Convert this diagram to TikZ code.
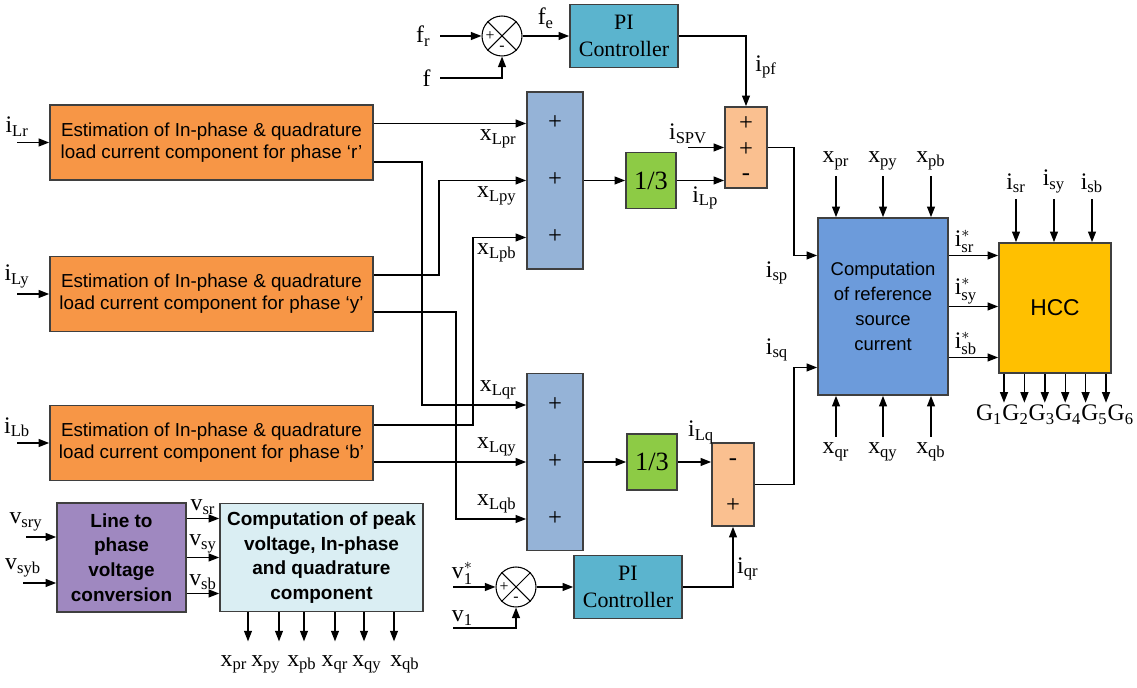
\documentclass[tikz,border=0pt]{standalone}
\usepackage{fontspec}
\setmainfont{Liberation Serif}
\setsansfont{Liberation Sans}
\usetikzlibrary{arrows.meta, positioning, calc}
\definecolor{EstOrange}{HTML}{F79646}
\definecolor{SumPeach}{HTML}{FAC090}
\definecolor{SumBlue}{HTML}{95B3D7}
\definecolor{GainGreen}{HTML}{8DCB45}
\definecolor{PIBlue}{HTML}{5BB4CE}
\definecolor{RefBlue}{HTML}{6C9BDB}
\definecolor{HCCGold}{HTML}{FFC000}
\definecolor{ConvPurple}{HTML}{9F88C0}
\definecolor{PeakCyan}{HTML}{DAEEF3}
\definecolor{EdgeGray}{HTML}{3F3F3F}
\newcommand{\sub}[2]{#1\textsubscript{#2}}
\newcommand{\subsup}[3]{$\mathrm{#1}^{#3}_{\mathrm{#2}}$}

\begin{document}
\begin{tikzpicture}[x=0.02cm, y=-0.02cm, >={Triangle[length=6pt,width=4.5pt]}, line width=0.8pt,
  blk/.style={draw=EdgeGray, line width=1pt, inner sep=0pt, align=center},
  est/.style={blk, fill=EstOrange, minimum width=6.46cm, minimum height=1.5cm, font=\sffamily\fontsize{10.7}{12.5}\selectfont},
  sumbox/.style={blk, fill=SumBlue, minimum width=1.12cm, minimum height=3.54cm},
  gain/.style={blk, fill=GainGreen, minimum width=1cm, minimum height=1.12cm, font=\fontsize{15}{15}\selectfont},
  picon/.style={blk, fill=PIBlue, minimum width=2.16cm, minimum height=1.26cm, font=\fontsize{12.5}{15}\selectfont},
  addbox/.style={blk, fill=SumPeach, minimum width=0.84cm, minimum height=1.62cm},
  summer/.style={draw, circle, minimum size=0.8cm, inner sep=0pt, line width=0.6pt},
  lbl/.style={font=\fontsize{13.5}{13.5}\selectfont, inner sep=1pt},
  sgn/.style={font=\fontsize{14}{14}\selectfont, inner sep=0pt, text height=7pt, text depth=0pt},
  csgn/.style={font=\fontsize{9}{9}\selectfont, inner sep=0pt}]

  \useasboundingbox (0,0) rectangle (1137,688);

  % --- load current estimation ---
  \node[est] (estr) at (211.5,142.5) {Estimation of In-phase \& quadrature\\load current component for phase ‘r’};
  \node[est] (esty) at (211.5,294) {Estimation of In-phase \& quadrature\\load current component for phase ‘y’};
  \node[est] (estb) at (211.5,443) {Estimation of In-phase \& quadrature\\load current component for phase ‘b’};
  \foreach \bx/\s in {estr/Lr, esty/Ly, estb/Lb}
    \draw[->] ($(\bx.west)+(-32,0)$) node[lbl, above=2pt]{\sub{i}{\s}} -- (\bx.west);

  % --- in-phase and quadrature adders ---
  \node[sumbox] (sumP) at (555,180.5) {};
  \node[sumbox] (sumQ) at (555,462) {};
  \coordinate (pa) at ($(sumP.west)+(0,-57)$);
  \coordinate (pb) at (sumP.west);
  \coordinate (pc) at ($(sumP.west)+(0,57)$);
  \coordinate (qa) at ($(sumQ.west)+(0,-57)$);
  \coordinate (qb) at (sumQ.west);
  \coordinate (qc) at ($(sumQ.west)+(0,57)$);
  \foreach \c in {pa,pb,pc,qa,qb,qc}
    \node[sgn] at (\c -| sumP) {+};

  \draw[->] (pa -| estr.east) -- (pa) node[lbl, anchor=north east, xshift=-4pt, yshift=-2pt]{\sub{x}{Lpr}};
  \draw[->] ($(esty.east)+(0,-19)$) -| ($(pb)+(-87,0)$) -- (pb) node[lbl, anchor=north east, xshift=-4pt, yshift=-2pt]{\sub{x}{Lpy}};
  \draw[->] ($(estb.east)+(0,-18)$) -| ($(pc)+(-53,0)$) -- (pc) node[lbl, anchor=north east, xshift=-4pt, yshift=-2pt]{\sub{x}{Lpb}};
  \draw[->] ($(estr.east)+(0,19.5)$) -| ($(qa)+(-104,0)$) -- (qa) node[lbl, anchor=south east, xshift=-4pt, yshift=2pt]{\sub{x}{Lqr}};
  \draw[->] (qb -| estb.east) -- (qb) node[lbl, anchor=south east, xshift=-4pt, yshift=2pt]{\sub{x}{Lqy}};
  \draw[->] ($(esty.east)+(0,18)$) -| ($(qc)+(-70,0)$) -- (qc) node[lbl, anchor=south east, xshift=-4pt, yshift=2pt]{\sub{x}{Lqb}};

  % --- averaging gains ---
  \node[gain] (g1) at (651,180.5) {1/3};
  \node[gain] (g2) at (652,462) {1/3};
  \draw[->] (sumP.east) -- (g1.west);
  \draw[->] (sumQ.east) -- (g2.west);

  % --- frequency loop ---
  \node[summer] (cT) at (502,36) {};
  \draw[line width=0.6pt] (cT.45) -- (cT.225) (cT.135) -- (cT.315);
  \node[csgn] at ($(cT)+(-12,0)$) {+};
  \node[csgn] at ($(cT)+(0,12)$) {-};
  \node[picon] (piT) at (624,36) {PI\\Controller};
  \node[addbox] (addP) at (746,147.5) {};
  \node[sgn] at ($(addP)+(0,-23)$) {+};
  \node[sgn] at ($(addP)+(0,3)$) {+};
  \node[sgn] at ($(addP)+(0,27)$) {-};
  \coordinate (frin) at (440,36);
  \coordinate (fin) at (440,78);
  \coordinate (spv) at ($(addP.west)+(-36,0)$);
  \draw[->] (frin) node[lbl, left=4pt]{\sub{f}{r}} -- (cT.west);
  \draw[->] (fin) node[lbl, left=4pt]{f} -| (cT.south);
  \draw[->] (cT.east) -- (piT.west) node[lbl, midway, above=3pt]{\sub{f}{e}};
  \draw[->] (piT.east) -| (addP.north) node[lbl, pos=0.72, right=4pt]{\sub{i}{pf}};
  \draw[->] (spv) node[lbl, above=1pt]{\sub{i}{SPV}} -- (addP.west);
  \draw[->] (g1.east) -- (g1.east -| addP.west) node[lbl, pos=0.6, below=2pt]{\sub{i}{Lp}};

  % --- voltage loop ---
  \node[summer] (cB) at (516,587) {};
  \draw[line width=0.6pt] (cB.45) -- (cB.225) (cB.135) -- (cB.315);
  \node[csgn] at ($(cB)+(-12,0)$) {+};
  \node[csgn] at ($(cB)+(0,12)$) {-};
  \node[picon] (piB) at (628,587) {PI\\Controller};
  \node[addbox, minimum height=1.66cm] (addQ) at (733,484.5) {};
  \node[sgn] at ($(addQ)+(0,-25)$) {-};
  \node[sgn] at ($(addQ)+(0,22)$) {+};
  \coordinate (vsin) at (453,587);
  \coordinate (vin) at (453,628);
  \draw[->] (vsin) node[lbl, above right, xshift=-2pt]{\subsup{v}{1}{*}} -- (cB.west);
  \draw[->] (vin) node[lbl, above right, xshift=-2pt]{\sub{v}{1}} -| (cB.south);
  \draw[->] (cB.east) -- (piB.west);
  \draw[->] (piB.east) -| (addQ.south) node[lbl, pos=0.65, right=1pt]{\sub{i}{qr}};
  \draw[->] (g2.east) -- (g2.east -| addQ.west) node[lbl, pos=0.7, above=9pt]{\sub{i}{Lq}};

  % --- reference source current ---
  \node[blk, fill=RefBlue, minimum width=2.6cm, minimum height=3.54cm, font=\sffamily\fontsize{10.5}{14.2}\selectfont] (comp) at (883,306.5) {Computation\\of reference\\source\\current};
  \coordinate (csp) at ($(comp.west)+(0,-51)$);
  \coordinate (csq) at ($(comp.west)+(0,61)$);
  \draw[->] (addP.east) -| ($(csp)+(-23,0)$) node[lbl, below left=2pt and 2pt]{\sub{i}{sp}} -- (csp);
  \draw[->] (addQ.east) -| ($(csq)+(-23,0)$) node[lbl, above left=2pt and 2pt]{\sub{i}{sq}} -- (csq);
  \foreach \dx/\s in {-47/pr, 0/py, 48/pb}
    \draw[->] ($(comp.north)+(\dx,-41)$) node[lbl, above=2pt]{\sub{x}{\s}} -- ($(comp.north)+(\dx,0)$);
  \foreach \dx/\s in {-47/qr, 0/qy, 48/qb}
    \draw[->] ($(comp.south)+(\dx,41)$) node[lbl, below=2pt]{\sub{x}{\s}} -- ($(comp.south)+(\dx,0)$);

  % --- hysteresis current controller ---
  \node[blk, fill=HCCGold, minimum width=2.24cm, minimum height=2.6cm, font=\sffamily\fontsize{13}{13}\selectfont] (hcc) at (1055,308) {HCC};
  \foreach \dy/\s in {-51/sr, 0/sy, 51/sb} {
    \coordinate (ref) at ($(comp.east)+(0,\dy)$);
    \draw[->] (ref) node[lbl, above right, xshift=2pt]{\subsup{i}{\s}{*}} -- (ref -| hcc.west);
  }
  \foreach \dx/\s in {-39/sr, -1/sy, 37/sb}
    \draw[->] ($(hcc.north)+(\dx,-43)$) node[lbl, above=2pt]{\sub{i}{\s}} -- ($(hcc.north)+(\dx,0)$);
  \node[lbl] (gates) at (1055,415) {G\textsubscript{1}G\textsubscript{2}G\textsubscript{3}G\textsubscript{4}G\textsubscript{5}G\textsubscript{6}};
  \foreach \k in {0,...,5} {
    \coordinate (gt) at ($(hcc.south)+(-51+20.4*\k,0)$);
    \draw[->] (gt) -- (gt |- gates.north);
  }

  % --- voltage processing ---
  \node[blk, fill=ConvPurple, minimum width=2.58cm, minimum height=2.18cm, font=\sffamily\bfseries\fontsize{10.8}{14}\selectfont] (conv) at (121.5,557.5) {Line to\\phase\\voltage\\conversion};
  \node[blk, fill=PeakCyan, minimum width=4.06cm, minimum height=2.16cm, font=\sffamily\bfseries\fontsize{10.8}{14}\selectfont] (peak) at (321.5,557.5) {Computation of peak\\voltage, In-phase\\and quadrature\\component};
  \draw[->] ($(conv.west)+(-30,-20.5)$) node[lbl, above=2pt]{\sub{v}{sry}} -- ($(conv.west)+(0,-20.5)$);
  \draw[->] ($(conv.west)+(-33,25.5)$) node[lbl, above=2pt]{\sub{v}{syb}} -- ($(conv.west)+(0,25.5)$);
  \foreach \dy/\s in {-39/sr, 0/sy, 36/sb} {
    \coordinate (ph) at ($(conv.east)+(0,\dy)$);
    \draw[->] (ph) -- (ph -| peak.west) node[lbl, midway, above=1pt]{\sub{v}{\s}};
  }
  \foreach \ax/\lx/\s in {-73.5/-87.5/pr, -42.5/-55.5/py, -17.5/-19.5/pb, 13.5/13.5/qr, 42.5/45.5/qy, 72.5/83.5/qb} {
    \draw[->] ($(peak.south)+(\ax,0)$) -- ($(peak.south)+(\ax,29)$);
    \node[lbl, inner sep=0pt] at ($(peak.south)+(\lx,52)$) {\sub{x}{\s}};
  }
\end{tikzpicture}
\end{document}
